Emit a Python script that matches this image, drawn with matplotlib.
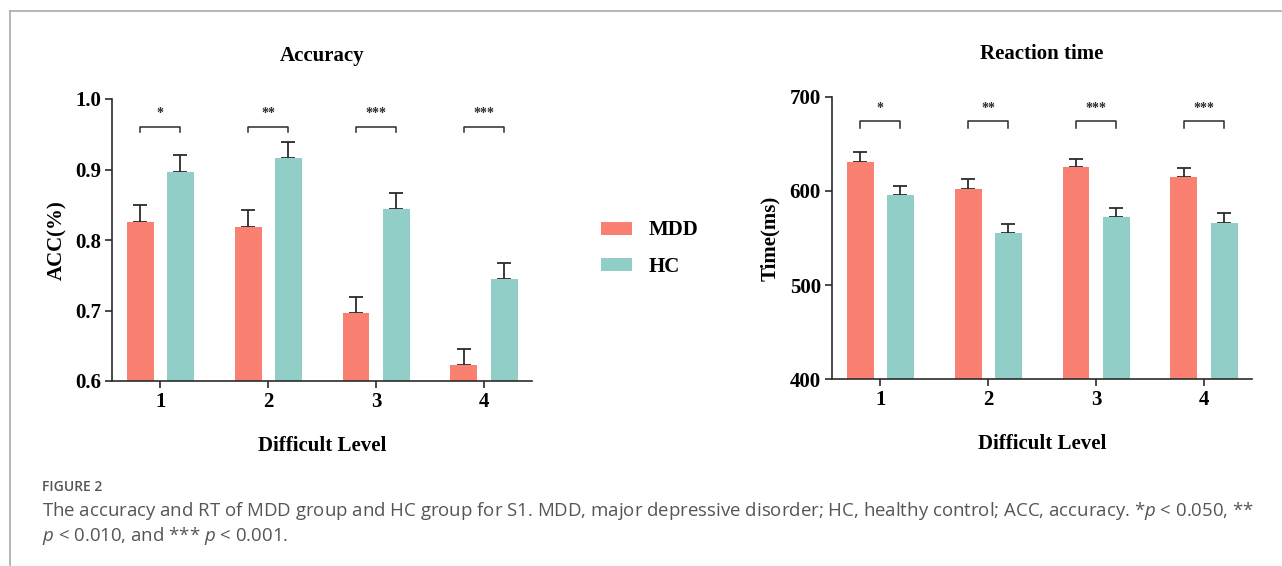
import matplotlib
matplotlib.use("Agg")
import matplotlib.pyplot as plt
from matplotlib.lines import Line2D
from matplotlib.patches import Patch
import numpy as np

# Data
levels = [1, 2, 3, 4]
acc_mdd = [0.825, 0.818, 0.697, 0.622]
acc_mdd_err = [0.024, 0.024, 0.022, 0.024]
acc_hc = [0.896, 0.916, 0.844, 0.744]
acc_hc_err = [0.024, 0.023, 0.022, 0.024]
rt_mdd = [631, 602, 625, 615]
rt_mdd_err = [10.5, 10, 9, 9.5]
rt_hc = [595, 555, 572, 566]
rt_hc_err = [10.5, 10, 9.5, 10]
sig_labels = ["*", "**", "***", "***"]
group_names = ["MDD", "HC"]

mdd_color = "#FA8072"
hc_color = "#91CEC8"
ink = "#2b2b2b"
serif = ["Liberation Serif", "DejaVu Serif"]

plt.rcParams["mathtext.fontset"] = "custom"
plt.rcParams["mathtext.it"] = "Open Sans:italic"
plt.rcParams["mathtext.rm"] = "Open Sans"

W, H = 1282, 566
fig = plt.figure(figsize=(W / 100, H / 100), dpi=100)


def px_axes(x0, x1, ytop, ybot):
    return fig.add_axes([x0 / W, 1 - ybot / H, (x1 - x0) / W, (ybot - ytop) / H])


def draw_panel(ax, mdd, mdd_err, hc, hc_err, ylim, yticks, ylabel, title,
               bracket_y, leg, star_y, ylabel_x):
    x = np.array(levels, dtype=float)
    off, w = 0.186, 0.25
    ax.bar(x - off, mdd, width=w, color=mdd_color, zorder=2)
    ax.bar(x + off, hc, width=w, color=hc_color, zorder=2)
    ax.errorbar(x - off, mdd, yerr=[np.zeros(4), mdd_err], fmt="none",
                ecolor=ink, elinewidth=1.3, capsize=5, capthick=1.3, zorder=1)
    ax.errorbar(x + off, hc, yerr=[np.zeros(4), hc_err], fmt="none",
                ecolor=ink, elinewidth=1.3, capsize=5, capthick=1.3, zorder=1)
    for xi, s in zip(x, sig_labels):
        ax.plot([xi - off, xi - off, xi + off, xi + off],
                [bracket_y - leg, bracket_y, bracket_y, bracket_y - leg],
                color=ink, lw=1.1, clip_on=False)
        ax.text(xi, star_y, s, ha="center", va="center", fontsize=10,
                fontweight="bold", family=serif, color=ink)

    ax.set_xlim(0.553, 4.445)
    ax.set_ylim(*ylim)
    ax.set_yticks(yticks)
    ax.set_xticks(levels)
    for side in ["top", "right"]:
        ax.spines[side].set_visible(False)
    for side in ["left", "bottom"]:
        ax.spines[side].set_linewidth(1.2)
        ax.spines[side].set_color(ink)
    ax.tick_params(axis="both", length=5, width=1.2, color=ink, pad=3)
    for lab in ax.get_xticklabels() + ax.get_yticklabels():
        lab.set_fontfamily(serif)
        lab.set_fontweight("bold")
        lab.set_fontsize(15)
    ax.set_ylabel(ylabel, fontsize=15, fontweight="bold", family=serif)
    ax.yaxis.set_label_coords(ylabel_x, 0.5)
    ax.set_xlabel("Difficult Level", fontsize=15, fontweight="bold", family=serif)
    ax.xaxis.set_label_coords(0.5, -0.195)
    ax.text(0.5, 1.152, title, transform=ax.transAxes, ha="center", va="center",
            fontsize=15, fontweight="bold", family=serif)


ax1 = px_axes(112, 532, 99, 381)
draw_panel(ax1, acc_mdd, acc_mdd_err, acc_hc, acc_hc_err, (0.6, 1.0),
           [0.6, 0.7, 0.8, 0.9, 1.0], "ACC(%)", "Accuracy",
           0.960, 0.007, 0.98, -0.107)
ax1.yaxis.set_major_formatter(plt.FormatStrFormatter("%.1f"))

ax2 = px_axes(832, 1252, 96.5, 379.3)
draw_panel(ax2, rt_mdd, rt_mdd_err, rt_hc, rt_hc_err, (400, 700),
           [400, 500, 600, 700], "Time(ms)", "Reaction time",
           674, 7, 687, -0.124)

handles = [Patch(facecolor=mdd_color), Patch(facecolor=hc_color)]
fig.legend(handles, group_names, loc="center left",
           bbox_to_anchor=(601 / W, 1 - 248.5 / H), frameon=False,
           prop={"family": serif, "weight": "bold", "size": 15},
           handlelength=1.5, handleheight=0.58, handletextpad=0.8,
           labelspacing=0.78, borderpad=0, borderaxespad=0)

# page frame lines
fig.add_artist(Line2D([9.5 / W, 1], [1 - 10.5 / H, 1 - 10.5 / H],
                      color="#aaaaaa", lw=1.2))
fig.add_artist(Line2D([9.5 / W, 9.5 / W], [0, 1 - 10.5 / H],
                      color="#aaaaaa", lw=1.2))

cap_color = "#555555"
fig.text(42 / W, 1 - 487 / H, "FIGURE 2", fontsize=10, family="Open Sans",
         fontweight="semibold", color=cap_color, va="center")
fig.text(42 / W, 1 - 511 / H,
         "The accuracy and RT of MDD group and HC group for S1. MDD, major depressive "
         "disorder; HC, healthy control; ACC, accuracy. *$p$ < 0.050, **",
         fontsize=13.4, family="Open Sans", color=cap_color, va="center")
fig.text(42 / W, 1 - 536 / H, "$p$ < 0.010, and *** $p$ < 0.001.",
         fontsize=13.4, family="Open Sans", color=cap_color, va="center")

fig.savefig("out.png", dpi=100)
